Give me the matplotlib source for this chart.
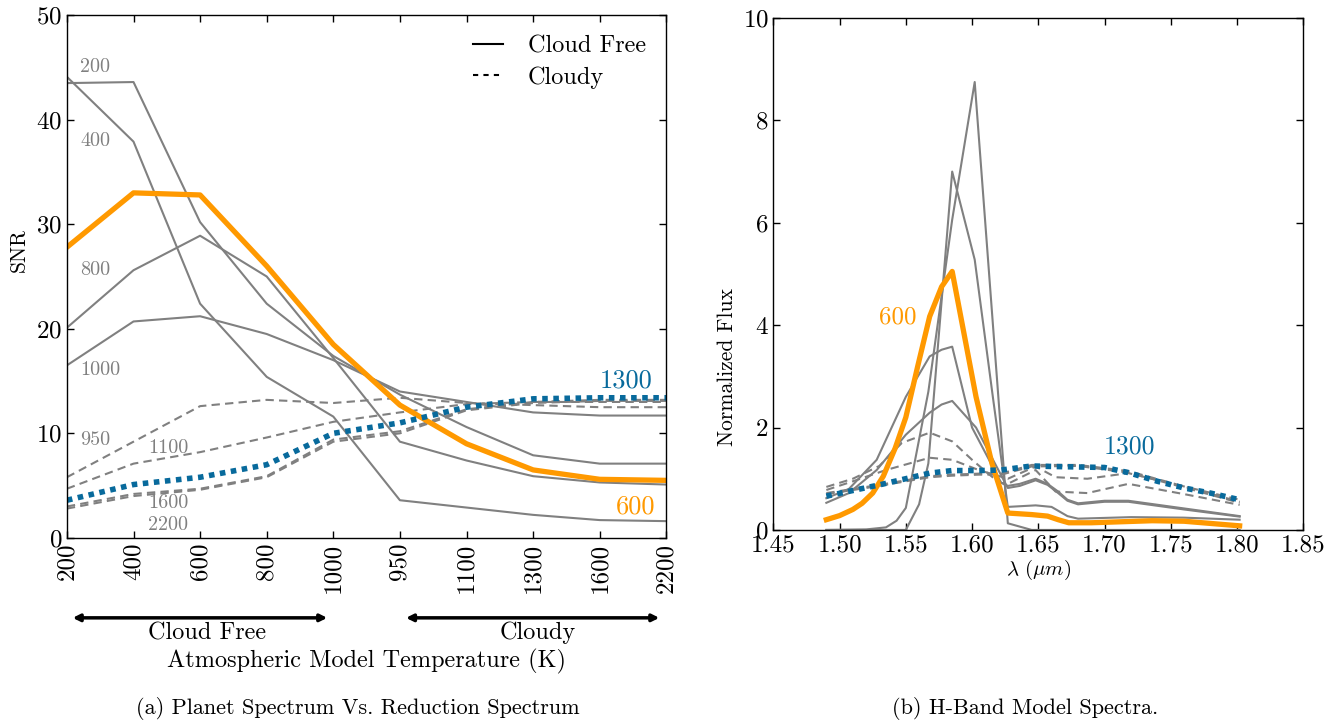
import matplotlib
matplotlib.use("Agg")
import matplotlib.pyplot as plt

plt.rcParams['font.family'] = ['cmr10', 'DejaVu Serif']
plt.rcParams['mathtext.fontset'] = 'cm'
plt.rcParams['axes.formatter.use_mathtext'] = True

GRAY = '#808080'
ORANGE = '#ff9900'
BLUE = '#086a9c'

# --- panel (a): SNR vs reduction model ---
temp_labels = ['200', '400', '600', '800', '1000', '950', '1100', '1300', '1600', '2200']

# cloud free models
snr_200 = [44.1, 37.9, 22.4, 15.4, 11.6, 3.6, 2.9, 2.2, 1.7, 1.6]
snr_400 = [43.5, 43.6, 30.2, 22.4, 17.4, 13.7, 10.6, 7.9, 7.1, 7.1]
snr_600 = [27.8, 33.0, 32.8, 26.0, 18.5, 12.7, 9.0, 6.5, 5.6, 5.5]
snr_800 = [20.1, 25.6, 28.9, 25.0, 17.2, 9.2, 7.4, 5.9, 5.3, 5.1]
snr_1000 = [16.5, 20.7, 21.2, 19.5, 17.0, 14.0, 13.0, 12.0, 11.7, 11.7]

# cloudy models
snr_950 = [5.8, 9.2, 12.6, 13.2, 12.9, 13.4, 12.9, 12.7, 12.5, 12.5]
snr_1100 = [4.7, 7.1, 8.2, 9.6, 11.1, 12.0, 12.8, 13.0, 13.0, 13.0]
snr_1300 = [3.6, 5.1, 5.8, 7.0, 10.0, 11.0, 12.5, 13.3, 13.4, 13.4]
snr_1600 = [3.0, 4.2, 4.7, 5.9, 9.4, 10.2, 12.3, 13.0, 13.2, 13.2]
snr_2200 = [2.8, 4.0, 4.6, 5.8, 9.2, 10.0, 12.2, 12.9, 13.1, 13.1]

# --- panel (b): H-band spectra ---
lam_200 = [1.490, 1.520, 1.535, 1.543, 1.550, 1.567, 1.585, 1.602, 1.627, 1.645, 1.802]
flux_200 = [0.0, 0.01, 0.05, 0.18, 0.43, 2.7, 6.06, 8.75, 0.13, 0.0, 0.0]

lam_400 = [1.490, 1.550, 1.560, 1.567, 1.585, 1.602, 1.616, 1.627, 1.648, 1.660,
           1.672, 1.680, 1.720, 1.760, 1.802]
flux_400 = [0.0, 0.0, 0.5, 1.3, 7.0, 5.28, 2.54, 0.45, 0.48, 0.45, 0.27, 0.22, 0.25, 0.24, 0.2]

lam_600 = [1.490, 1.500, 1.510, 1.517, 1.525, 1.533, 1.542, 1.550, 1.559, 1.568, 1.577,
           1.585, 1.603, 1.615, 1.627, 1.645, 1.657, 1.665, 1.673, 1.690, 1.736, 1.760, 1.802]
flux_600 = [0.2, 0.28, 0.4, 0.52, 0.72, 1.05, 1.6, 2.2, 3.2, 4.17, 4.75,
            5.05, 2.6, 1.3, 0.33, 0.3, 0.27, 0.2, 0.14, 0.14, 0.18, 0.17, 0.08]

lam_800 = [1.490, 1.507, 1.528, 1.550, 1.568, 1.577, 1.585, 1.600, 1.622, 1.627, 1.636,
           1.648, 1.657, 1.665, 1.672, 1.680, 1.700, 1.718, 1.760, 1.802]
flux_800 = [0.62, 0.8, 1.37, 2.6, 3.39, 3.52, 3.58, 2.0, 0.92, 0.86, 0.9,
            1.0, 0.9, 0.75, 0.59, 0.52, 0.57, 0.57, 0.42, 0.27]

lam_1000 = [1.490, 1.507, 1.528, 1.550, 1.568, 1.577, 1.585, 1.603, 1.627, 1.636,
            1.648, 1.657, 1.665, 1.672, 1.680, 1.700, 1.718, 1.760, 1.802]
flux_1000 = [0.53, 0.72, 1.17, 1.86, 2.29, 2.45, 2.52, 2.0, 0.82, 0.86,
             0.97, 0.88, 0.72, 0.57, 0.5, 0.55, 0.55, 0.4, 0.26]

lam_950 = [1.490, 1.510, 1.530, 1.547, 1.568, 1.585, 1.600, 1.615, 1.622, 1.627,
           1.648, 1.663, 1.687, 1.718, 1.760, 1.802]
flux_950 = [0.84, 1.0, 1.25, 1.7, 1.9, 1.73, 1.37, 1.04, 0.92, 0.9,
            1.17, 0.75, 0.72, 0.9, 0.7, 0.49]

lam_1100 = [1.490, 1.510, 1.535, 1.568, 1.585, 1.605, 1.622, 1.627, 1.648, 1.663,
            1.687, 1.718, 1.760, 1.802]
flux_1100 = [0.78, 0.95, 1.17, 1.41, 1.37, 1.17, 1.04, 1.0, 1.24, 1.03,
             1.0, 1.11, 0.85, 0.59]

lam_1300 = [1.490, 1.530, 1.568, 1.585, 1.605, 1.622, 1.645, 1.660, 1.700, 1.718,
            1.740, 1.760, 1.780, 1.802]
flux_1300 = [0.66, 0.88, 1.11, 1.16, 1.16, 1.17, 1.25, 1.24, 1.22, 1.12,
             0.95, 0.82, 0.72, 0.59]

lam_cloudy = [1.490, 1.530, 1.568, 1.585, 1.605, 1.622, 1.645, 1.680, 1.718, 1.760, 1.802]
flux_1600 = [0.72, 0.88, 1.05, 1.08, 1.1, 1.1, 1.27, 1.27, 1.15, 0.85, 0.55]
flux_2200 = [0.70, 0.86, 1.03, 1.06, 1.08, 1.08, 1.24, 1.25, 1.12, 0.83, 0.53]


fig = plt.figure(figsize=(13.38, 7.21), dpi=100)
ax1 = fig.add_axes([0.050, 0.254, 0.448, 0.725])
ax2 = fig.add_axes([0.578, 0.265, 0.396, 0.710])

x = list(range(len(temp_labels)))
for s in [snr_200, snr_400, snr_800, snr_1000]:
    ax1.plot(x, s, color=GRAY, lw=1.5)
for s in [snr_950, snr_1100, snr_1600, snr_2200]:
    ax1.plot(x, s, color=GRAY, lw=1.5, ls=(0, (4, 2.5)))
ax1.plot(x, snr_600, color=ORANGE, lw=3.8)
ax1.plot(x, snr_1300, color=BLUE, lw=4, ls=(0, (1, 1)))

# legend
h1, = ax1.plot([], [], color='k', lw=1.5, label='Cloud Free')
h2, = ax1.plot([], [], color='k', lw=1.5, ls=(0, (2.5, 2.5)), label='Cloudy')
ax1.legend(handles=[h1, h2], loc='upper right', frameon=False, fontsize=17.5,
           handlelength=1.25, handletextpad=1.0, borderaxespad=0.45, labelspacing=0.35)

lab_kw = dict(color=GRAY, fontsize=14.5, va='center', ha='left')
ax1.text(0.2, 45.0, '200', **lab_kw)
ax1.text(0.2, 38.0, '400', **lab_kw)
ax1.text(0.2, 25.6, '800', **lab_kw)
ax1.text(0.2, 16.1, '1000', **lab_kw)
ax1.text(0.2, 9.4, '950', **lab_kw)
ax1.text(1.22, 8.6, '1100', **lab_kw)
ax1.text(1.22, 3.3, '1600', **lab_kw)
ax1.text(1.22, 1.2, '2200', **lab_kw)
ax1.text(8.0, 15.0, '1300', color=BLUE, fontsize=19, va='center', ha='left')
ax1.text(8.25, 3.0, '600', color=ORANGE, fontsize=19, va='center', ha='left')

ax1.set_xlim(0, 9)
ax1.set_ylim(0, 50)
ax1.set_xticks(x)
ax1.set_xticklabels(temp_labels, rotation=90, fontsize=18)
ax1.set_yticks([0, 10, 20, 30, 40, 50])
ax1.tick_params(axis='y', labelsize=18)
ax1.set_ylabel('SNR', fontsize=15.5)
ax1.yaxis.set_label_coords(-0.063, 0.55)

ax1.annotate('', xy=(0.005, -0.153), xytext=(0.439, -0.153), xycoords='axes fraction',
             arrowprops=dict(arrowstyle='<|-|>', color='k', lw=2.5, mutation_scale=10),
             annotation_clip=False)
ax1.annotate('', xy=(0.561, -0.153), xytext=(0.993, -0.153), xycoords='axes fraction',
             arrowprops=dict(arrowstyle='<|-|>', color='k', lw=2.5, mutation_scale=10),
             annotation_clip=False)
ax1.text(0.234, -0.182, 'Cloud Free', transform=ax1.transAxes, ha='center', va='center',
         fontsize=17.5)
ax1.text(0.786, -0.182, 'Cloudy', transform=ax1.transAxes, ha='center', va='center',
         fontsize=17.5)
ax1.text(0.5, -0.237, 'Atmospheric Model Temperature (K)', transform=ax1.transAxes,
         ha='center', va='center', fontsize=17.5)

# panel b
for lam, fl in [(lam_200, flux_200), (lam_400, flux_400), (lam_800, flux_800),
                (lam_1000, flux_1000)]:
    ax2.plot(lam, fl, color=GRAY, lw=1.5)
for lam, fl in [(lam_950, flux_950), (lam_1100, flux_1100), (lam_cloudy, flux_1600),
                (lam_cloudy, flux_2200)]:
    ax2.plot(lam, fl, color=GRAY, lw=1.5, ls=(0, (4, 2.5)))
ax2.plot(lam_600, flux_600, color=ORANGE, lw=3.8)
ax2.plot(lam_1300, flux_1300, color=BLUE, lw=4, ls=(0, (1, 1)))

ax2.text(1.530, 4.15, '600', color=ORANGE, fontsize=18, va='center', ha='left')
ax2.text(1.6996, 1.62, '1300', color=BLUE, fontsize=18.5, va='center', ha='left')

ax2.set_xlim(1.45, 1.85)
ax2.set_ylim(0, 10)
ax2.set_xticks([1.45, 1.50, 1.55, 1.60, 1.65, 1.70, 1.75, 1.80, 1.85])
ax2.set_xticklabels(['%.2f' % v for v in ax2.get_xticks()])
ax2.set_yticks([0, 2, 4, 6, 8, 10])
ax2.tick_params(labelsize=18)
ax2.set_xlabel(r'$\lambda\ (\mu m)$', fontsize=15, labelpad=1)
ax2.set_ylabel('Normalized Flux', fontsize=15.5)
ax2.yaxis.set_label_coords(-0.068, 0.318)

for ax in (ax1, ax2):
    ax.tick_params(direction='in', top=True, right=True, length=5, width=1)
    for sp in ax.spines.values():
        sp.set_linewidth(1.0)

fig.text(358 / 1338, 1 - 708 / 721, '(a) Planet Spectrum Vs. Reduction Spectrum',
         ha='center', va='center', fontsize=16)
fig.text(1025 / 1338, 1 - 708 / 721, '(b) H-Band Model Spectra.',
         ha='center', va='center', fontsize=16)

fig.savefig('out.png', dpi=100)
